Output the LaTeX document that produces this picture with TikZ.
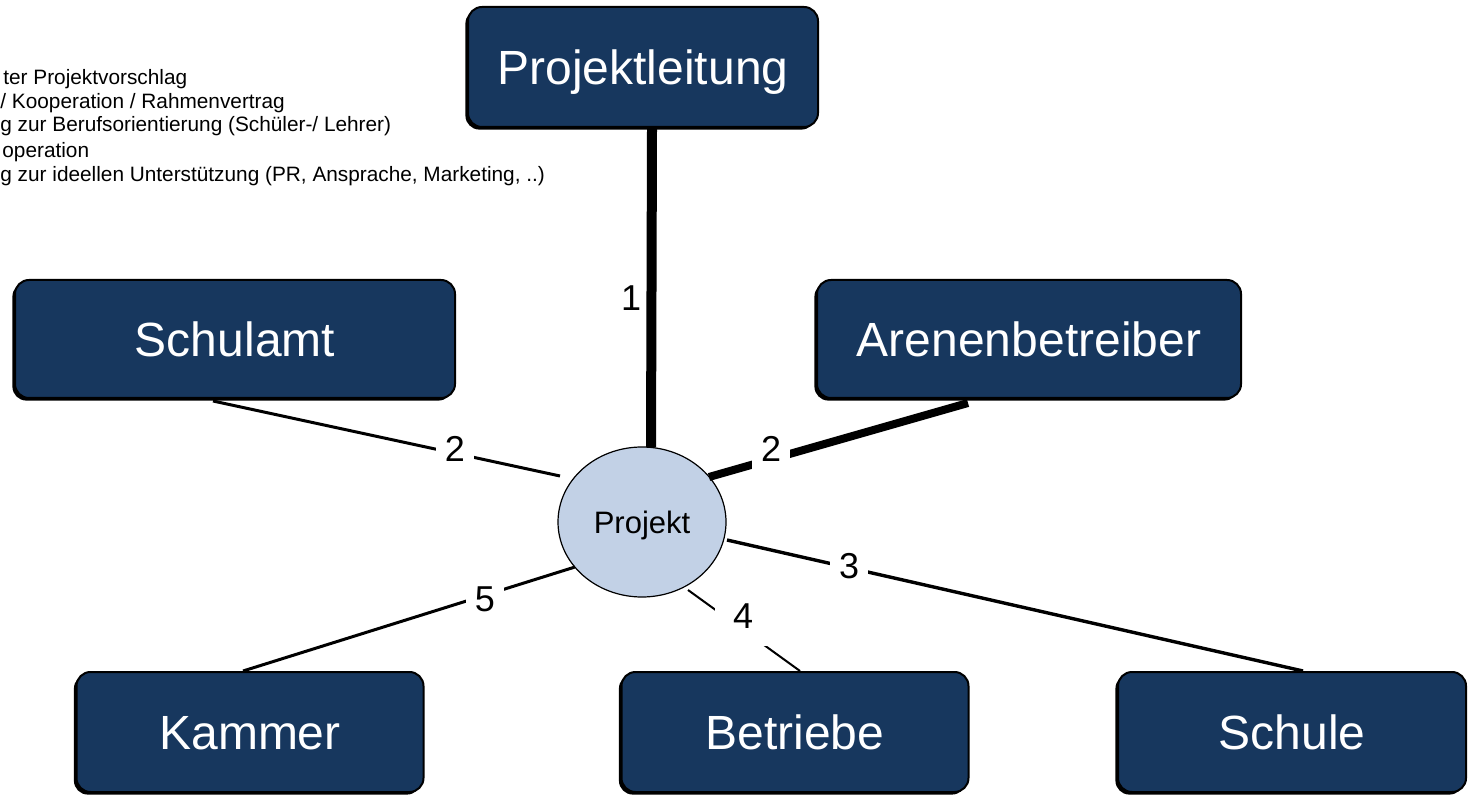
\documentclass[tikz,border=0pt]{standalone}
\usepackage{fontspec}
\setmainfont{Liberation Sans}
\usetikzlibrary{calc,shadows,shapes.geometric}
\definecolor{boxblue}{HTML}{17375E}
\definecolor{ellblue}{HTML}{C2D1E6}
\tikzset{
  box/.style={draw=black, line width=1pt, fill=boxblue, rounded corners=7pt,
    text=white, font=\fontsize{24}{28}\selectfont, inner sep=0pt,
    text height=17.2pt, text depth=0pt,
    drop shadow={shadow xshift=-1.3pt, shadow yshift=-1.3pt, fill=black, opacity=1}},
  hub/.style={ellipse, draw=black, line width=0.6pt, fill=ellblue,
    minimum width=84pt, minimum height=75pt, inner sep=0pt,
    text height=11.1pt, text depth=0pt,
    font=\fontsize{15.5}{18}\selectfont},
  conn/.style={draw=black, line width=1.5pt},
  lbl/.style={fill=white, inner sep=4.5pt, font=\fontsize{18}{21}\selectfont},
  legend/.style={anchor=base west, inner sep=0pt, font=\fontsize{10.4}{12}\selectfont}
}
\begin{document}
\begin{tikzpicture}[x=0.5pt, y=-0.5pt]
\useasboundingbox (0,0) rectangle (1470,795);

% legend (clipped at left edge in the original)
\node[legend] (leg1) at (3,85) {ter Projektvorschlag};
\node[legend] (leg2) at (0,108.5) {/ Kooperation / Rahmenvertrag};
\node[legend] (leg3) at (0,132) {g zur Berufsorientierung (Schüler-/ Lehrer)};
\node[legend] (leg4) at (2,158) {operation};
\node[legend] (leg5) at (0,182) {g zur ideellen Unterstützung (PR, Ansprache, Marketing, ..)};

% nodes
\node[box, minimum width=175pt, minimum height=60pt] (pl) at (643,67) {Projektleitung};
\node[box, minimum width=220pt, minimum height=59pt] (schulamt) at (235,339) {Schulamt};
\node[box, minimum width=212pt, minimum height=59pt] (arena) at (1029,339) {Arenenbetreiber};
\node[box, minimum width=173.5pt, minimum height=60pt] (kammer) at (250,732) {Kammer};
\node[box, minimum width=173.5pt, minimum height=60pt] (betriebe) at (795,732) {Betriebe};
\node[box, minimum width=174pt, minimum height=60pt] (schule) at (1292,732) {Schule};
\node[hub] (proj) at (642,522) {Projekt};

% connectors
\draw[conn, line width=5pt] ($(pl.south)+(9,0)$) -- ($(proj.north)+(9,1)$);
\node[font=\fontsize{18}{21}\selectfont, inner sep=0pt] (l1) at (631,298) {1};

\draw[conn] ($(schulamt.south)+(-22,2)$) -- ($(proj.center)+(-82,-46)$);
\node[lbl] (l2a) at (455,449) {2};

\draw[conn, line width=4pt] ($(arena.south)+(-61,4)$) -- ($(proj.center)+(67,-45)$);
\node[lbl] (l2b) at (771,449) {2};

\draw[conn, line width=1.7pt] ($(proj.center)+(85,18)$) -- ($(schule.north)+(11,0)$);
\node[lbl] (l3) at (849,566) {3};

\draw[conn, line width=1pt] ($(proj.center)+(46,68)$) -- ($(betriebe.north)+(5,0)$);
\node[lbl, inner sep=9pt] (l4) at (743,616) {4};

\draw[conn] ($(proj.center)+(-67,45)$) -- ($(kammer.north)+(-7,0)$);
\node[lbl] (l5) at (485,599) {5};
\end{tikzpicture}
\end{document}
